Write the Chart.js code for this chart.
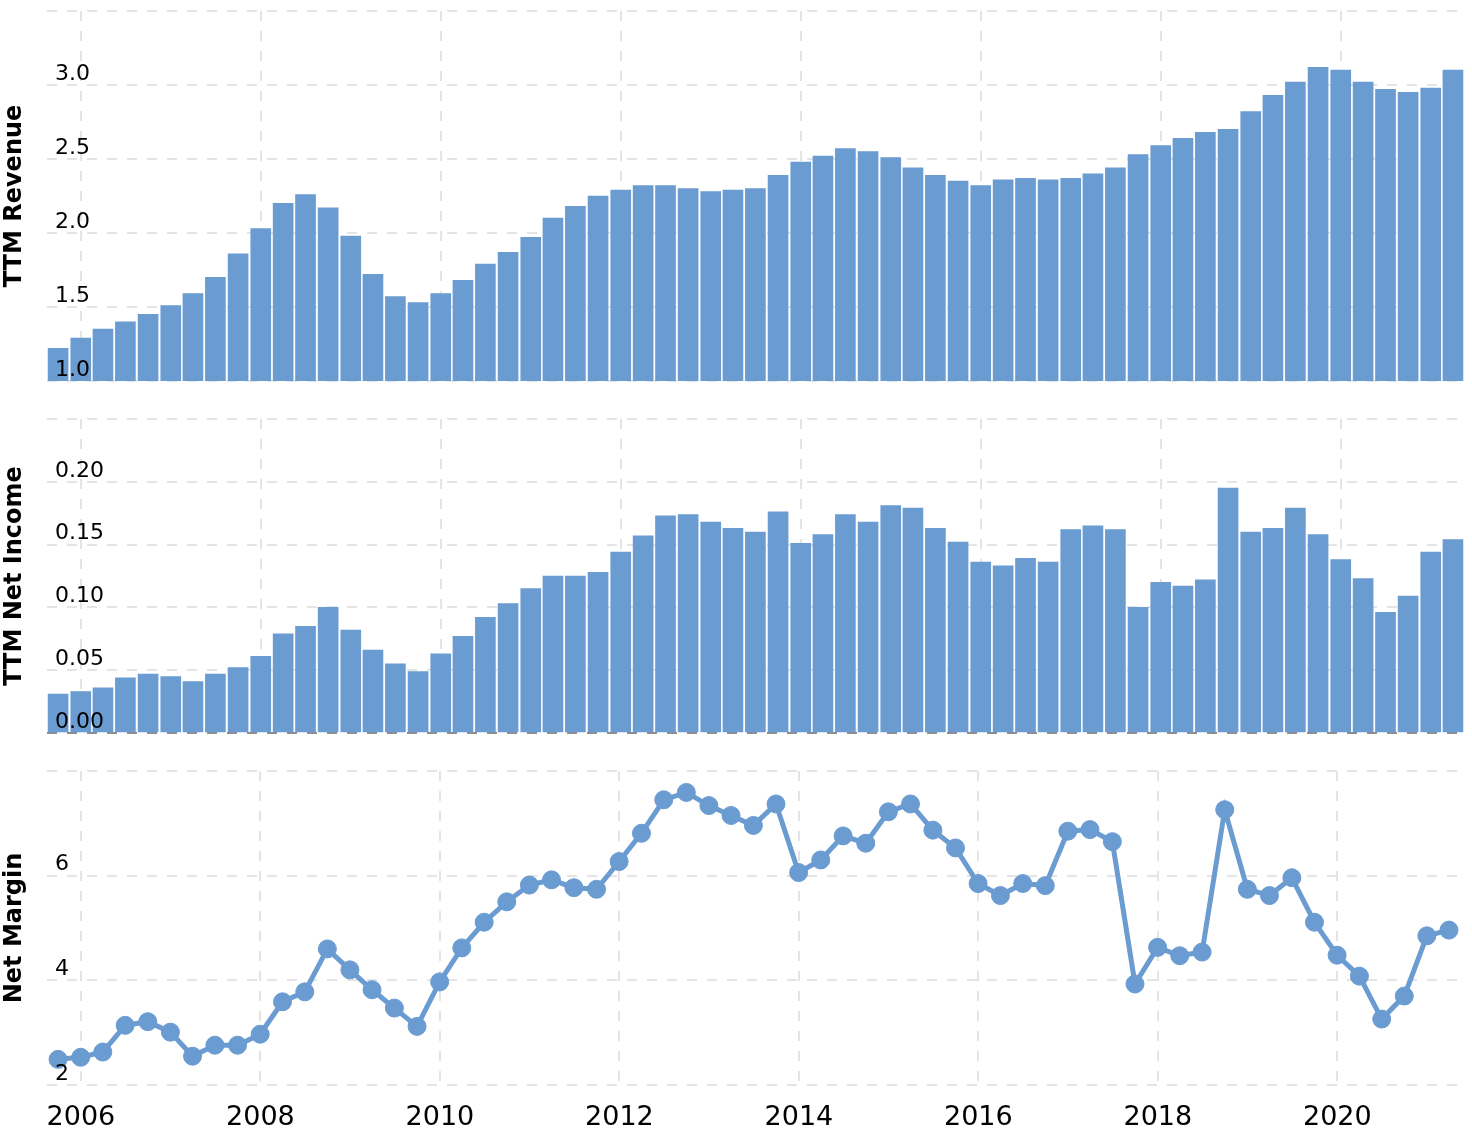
<!DOCTYPE html>
<html>
<head>
<meta charset="utf-8">
<title>TTM Revenue, Net Income and Net Margin</title>
<script src="https://cdn.jsdelivr.net/npm/chart.js@4.4.1/dist/chart.umd.min.js"></script>
<style>
    body { margin: 0; background: #ffffff; }
    .panel { position: absolute; left: 0; width: 1472px; }
    #p1 { top: 0; height: 400px; }
    #p2 { top: 400px; height: 350px; }
    #p3 { top: 750px; height: 382px; }
</style>
</head>
<body>
<div class="panel" id="p1"><canvas id="revenueChart"></canvas></div>
<div class="panel" id="p2"><canvas id="incomeChart"></canvas></div>
<div class="panel" id="p3"><canvas id="marginChart"></canvas></div>
<script>
// quarter end dates
const quarters = [
    "2005-09-30", "2005-12-31", "2006-03-31", "2006-06-30", "2006-09-30", "2006-12-31",
    "2007-03-31", "2007-06-30", "2007-09-30", "2007-12-31", "2008-03-31", "2008-06-30",
    "2008-09-30", "2008-12-31", "2009-03-31", "2009-06-30", "2009-09-30", "2009-12-31",
    "2010-03-31", "2010-06-30", "2010-09-30", "2010-12-31", "2011-03-31", "2011-06-30",
    "2011-09-30", "2011-12-31", "2012-03-31", "2012-06-30", "2012-09-30", "2012-12-31",
    "2013-03-31", "2013-06-30", "2013-09-30", "2013-12-31", "2014-03-31", "2014-06-30",
    "2014-09-30", "2014-12-31", "2015-03-31", "2015-06-30", "2015-09-30", "2015-12-31",
    "2016-03-31", "2016-06-30", "2016-09-30", "2016-12-31", "2017-03-31", "2017-06-30",
    "2017-09-30", "2017-12-31", "2018-03-31", "2018-06-30", "2018-09-30", "2018-12-31",
    "2019-03-31", "2019-06-30", "2019-09-30", "2019-12-31", "2020-03-31", "2020-06-30",
    "2020-09-30", "2020-12-31", "2021-03-31"
];

const revenue = [
    1.22, 1.29, 1.35, 1.40, 1.45, 1.51, 1.59, 1.70, 1.86, 2.03, 2.20, 2.26,
    2.17, 1.98, 1.72, 1.57, 1.53, 1.59, 1.68, 1.79, 1.87, 1.97, 2.10, 2.18,
    2.25, 2.29, 2.32, 2.32, 2.30, 2.28, 2.29, 2.30, 2.39, 2.48, 2.52, 2.57,
    2.55, 2.51, 2.44, 2.39, 2.35, 2.32, 2.36, 2.37, 2.36, 2.37, 2.40, 2.44,
    2.53, 2.59, 2.64, 2.68, 2.70, 2.82, 2.93, 3.02, 3.12, 3.10, 3.02, 2.97,
    2.95, 2.98, 3.10
];

const netIncome = [
    0.031, 0.033, 0.036, 0.044, 0.047, 0.045, 0.041, 0.047, 0.052, 0.061, 0.079, 0.085,
    0.100, 0.082, 0.066, 0.055, 0.049, 0.063, 0.077, 0.092, 0.103, 0.115, 0.125, 0.125,
    0.128, 0.144, 0.157, 0.173, 0.174, 0.168, 0.163, 0.160, 0.176, 0.151, 0.158, 0.174,
    0.168, 0.181, 0.179, 0.163, 0.152, 0.136, 0.133, 0.139, 0.136, 0.162, 0.165, 0.162,
    0.100, 0.120, 0.117, 0.122, 0.195, 0.160, 0.163, 0.179, 0.158, 0.138, 0.123, 0.096,
    0.109, 0.144, 0.154
];

const netMargin = [
    2.49, 2.53, 2.63, 3.14, 3.21, 3.01, 2.55, 2.76, 2.76, 2.97, 3.59, 3.78,
    4.60, 4.20, 3.82, 3.47, 3.12, 3.97, 4.62, 5.11, 5.50, 5.82, 5.92, 5.77,
    5.74, 6.27, 6.81, 7.45, 7.59, 7.34, 7.15, 6.96, 7.37, 6.06, 6.30, 6.76,
    6.62, 7.22, 7.37, 6.87, 6.53, 5.85, 5.62, 5.85, 5.81, 6.85, 6.88, 6.65,
    3.93, 4.63, 4.47, 4.54, 7.26, 5.74, 5.62, 5.96, 5.11, 4.48, 4.08, 3.26,
    3.70, 4.85, 4.96
];

// tick labels
const yearTicks = [2006, 2008, 2010, 2012, 2014, 2016, 2018, 2020];
const revenueTicks = [1.0, 1.5, 2.0, 2.5, 3.0, 3.5];
const incomeTicks = [0, 0.05, 0.10, 0.15, 0.20, 0.25];
const marginTicks = [2, 4, 6, 8];

const BLUE = "rgb(106, 155, 209)";
const GRID = "#e4e4e4";
const FONT = "'DejaVu Sans', Verdana, sans-serif";

// 日期字串轉成小數年份
function toYear(s) {
    const [y, m, d] = s.split("-").map(Number);
    const start = Date.UTC(y, 0, 1);
    const end = Date.UTC(y + 1, 0, 1);
    return y + (Date.UTC(y, m - 1, d) - start) / (end - start);
}

function points(values) {
    return quarters.map((q, i) => ({ x: toYear(q), y: values[i] }));
}

function xScale(showLabels) {
    return {
        type: "linear",
        min: 2005.622,
        max: 2021.389,
        offset: false,
        afterBuildTicks: axis => { axis.ticks = yearTicks.map(v => ({ value: v })); },
        afterFit: axis => {
            axis.height = showLabels ? 47 : 0;
            axis.paddingLeft = 0;
            axis.paddingRight = 0;
        },
        grid: { color: GRID, lineWidth: 2, drawTicks: false, offset: false },
        border: { display: false, dash: [10, 10] },
        ticks: {
            display: showLabels,
            autoSkip: false,
            maxRotation: 0,
            padding: 17,
            color: "#000",
            font: { family: FONT, size: 27 },
            callback: v => String(v),
        },
    };
}

function yScale(title, tickValues, digits) {
    const top = tickValues[tickValues.length - 1];
    return {
        type: "linear",
        min: tickValues[0],
        max: top,
        afterBuildTicks: axis => { axis.ticks = tickValues.map(v => ({ value: v })); },
        afterFit: axis => {
            axis.width = 47;
            axis.paddingTop = 0;
            axis.paddingBottom = 0;
        },
        grid: {
            color: ctx => (ctx.tick && ctx.tick.value === 0 ? "#8c8c8c" : GRID),
            lineWidth: 2,
            drawTicks: false,
        },
        border: { display: false, dash: [10, 10] },
        ticks: {
            mirror: true,
            padding: 8,
            labelOffset: -11,
            z: 1,
            color: "#000",
            font: { family: FONT, size: 22 },
            callback: v => (Math.abs(v - top) < 1e-9 ? "" : v.toFixed(digits)),
        },
        title: {
            display: true,
            text: title,
            color: "#000",
            padding: 0,
            font: { family: FONT, size: 24, weight: "bold" },
        },
    };
}

function baseOptions(padding, showX, y) {
    return {
        responsive: true,
        maintainAspectRatio: false,
        animation: false,
        layout: { padding: padding },
        plugins: { legend: { display: false }, tooltip: { enabled: false } },
        scales: { x: xScale(showX), y: y },
    };
}

// 營收長條圖
new Chart(document.getElementById("revenueChart"), {
    type: "bar",
    data: {
        datasets: [{
            data: points(revenue),
            backgroundColor: BLUE,
            borderWidth: 0,
            barThickness: 20,
        }],
    },
    options: baseOptions({ top: 11, bottom: 19, left: 0, right: 6 }, false,
        yScale("TTM Revenue", revenueTicks, 1)),
});

// 淨利長條圖
new Chart(document.getElementById("incomeChart"), {
    type: "bar",
    data: {
        datasets: [{
            data: points(netIncome),
            backgroundColor: BLUE,
            borderWidth: 0,
            barThickness: 20,
        }],
    },
    options: baseOptions({ top: 19, bottom: 17, left: 0, right: 6 }, false,
        yScale("TTM Net Income", incomeTicks, 2)),
});

// 淨利率折線圖
new Chart(document.getElementById("marginChart"), {
    type: "line",
    data: {
        datasets: [{
            data: points(netMargin),
            borderColor: BLUE,
            borderWidth: 5,
            tension: 0,
            pointRadius: 9,
            pointBackgroundColor: BLUE,
            pointBorderColor: BLUE,
            pointBorderWidth: 1,
        }],
    },
    options: baseOptions({ top: 21, bottom: 0, left: 0, right: 6 }, true,
        yScale("Net Margin", marginTicks, 0)),
});
</script>
</body>
</html>
